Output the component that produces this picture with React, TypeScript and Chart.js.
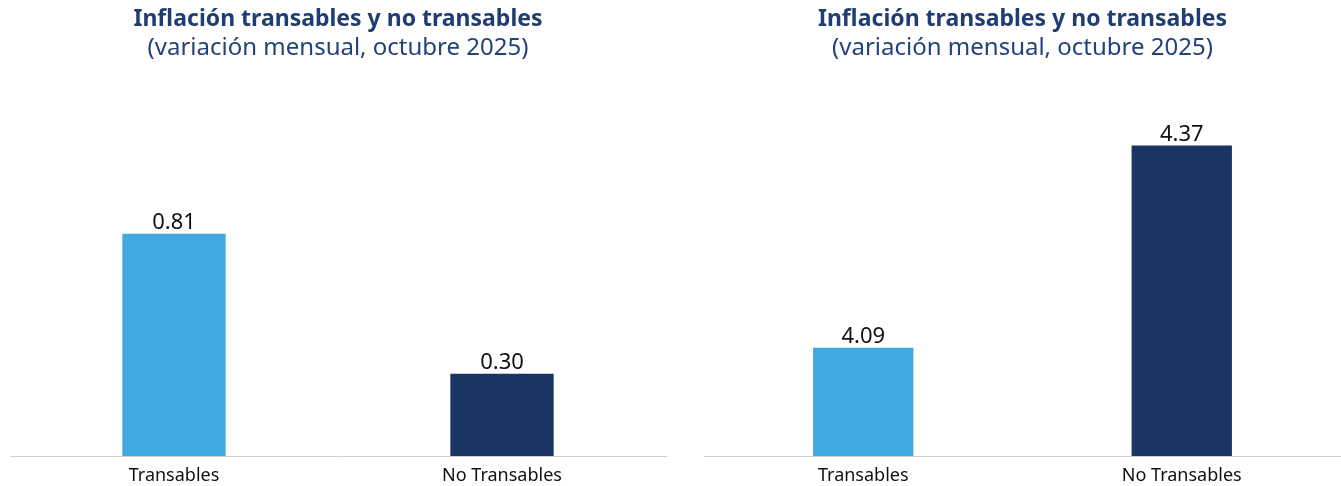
import React, { useEffect, useRef } from "react";
import { Chart, registerables } from "chart.js";

Chart.register(...registerables);

const categories = ["Transables", "No Transables"];
const leftValues = [0.81, 0.3];
const rightValues = [4.09, 4.37];
const titleText = "Inflación transables y no transables";
const subtitleText = "(variación mensual, octubre 2025)";
const barColors = ["#3FA9E0", "#193563"];

const FONT = "'Noto Sans', sans-serif";

const valueLabels = {
  id: "valueLabels",
  afterDatasetsDraw(chart: any) {
    const ctx = chart.ctx;
    const meta = chart.getDatasetMeta(0);
    const data = chart.data.datasets[0].data as number[];
    ctx.save();
    ctx.fillStyle = "#111111";
    ctx.font = `22px ${FONT}`;
    ctx.textAlign = "center";
    ctx.textBaseline = "alphabetic";
    meta.data.forEach((el: any, i: number) => {
      ctx.fillText(data[i].toFixed(2), el.x, el.y - 5);
    });
    ctx.restore();
  },
};

function Panel(props: { values: number[]; min: number; max: number; padLeft: number; padRight: number; width: number; left: number }) {
  const ref = useRef<HTMLCanvasElement>(null);
  useEffect(() => {
    if (!ref.current) return;
    const chart = new Chart(ref.current, {
      type: "bar",
      data: {
        labels: categories,
        datasets: [
          {
            data: props.values,
            backgroundColor: barColors,
            barPercentage: 0.63,
            categoryPercentage: 0.5,
          },
        ],
      },
      options: {
        responsive: false,
        animation: false,
        layout: { padding: { left: props.padLeft, right: props.padRight, top: 0, bottom: 0 } },
        plugins: {
          legend: { display: false },
          tooltip: { enabled: false },
          title: {
            display: true,
            text: titleText,
            color: "#1F3C73",
            font: { family: FONT, size: 23, weight: "bold" },
            padding: { top: 6, bottom: 0 },
          },
          subtitle: {
            display: true,
            text: subtitleText,
            color: "#24427A",
            font: { family: FONT, size: 24, weight: "normal" },
            padding: { top: 0, bottom: 63 },
          },
        },
        scales: {
          x: {
            grid: { display: false, drawTicks: false },
            border: { display: true, color: "#d0d0d0", width: 1 },
            ticks: { color: "#111111", font: { family: FONT, size: 18 }, padding: 9 },
            afterFit: (scale: any) => {
              scale.height = 30;
            },
          },
          y: {
            display: false,
            min: props.min,
            max: props.max,
          },
        },
      },
      plugins: [valueLabels],
    });
    return () => chart.destroy();
  }, []);
  return (
    <canvas
      ref={ref}
      width={props.width}
      height={486}
      style={{ position: "absolute", left: props.left, top: 0, width: props.width, height: 486 }}
    />
  );
}

export default function App() {
  return (
    <div style={{ position: "absolute", left: 0, top: 0, width: 1341, height: 486, background: "#fff" }}>
      <Panel values={leftValues} min={0} max={1.205} padLeft={10} padRight={14} width={680} left={0} />
      <Panel values={rightValues} min={3.94} max={4.398} padLeft={24} padRight={0} width={661} left={680} />
    </div>
  );
}
